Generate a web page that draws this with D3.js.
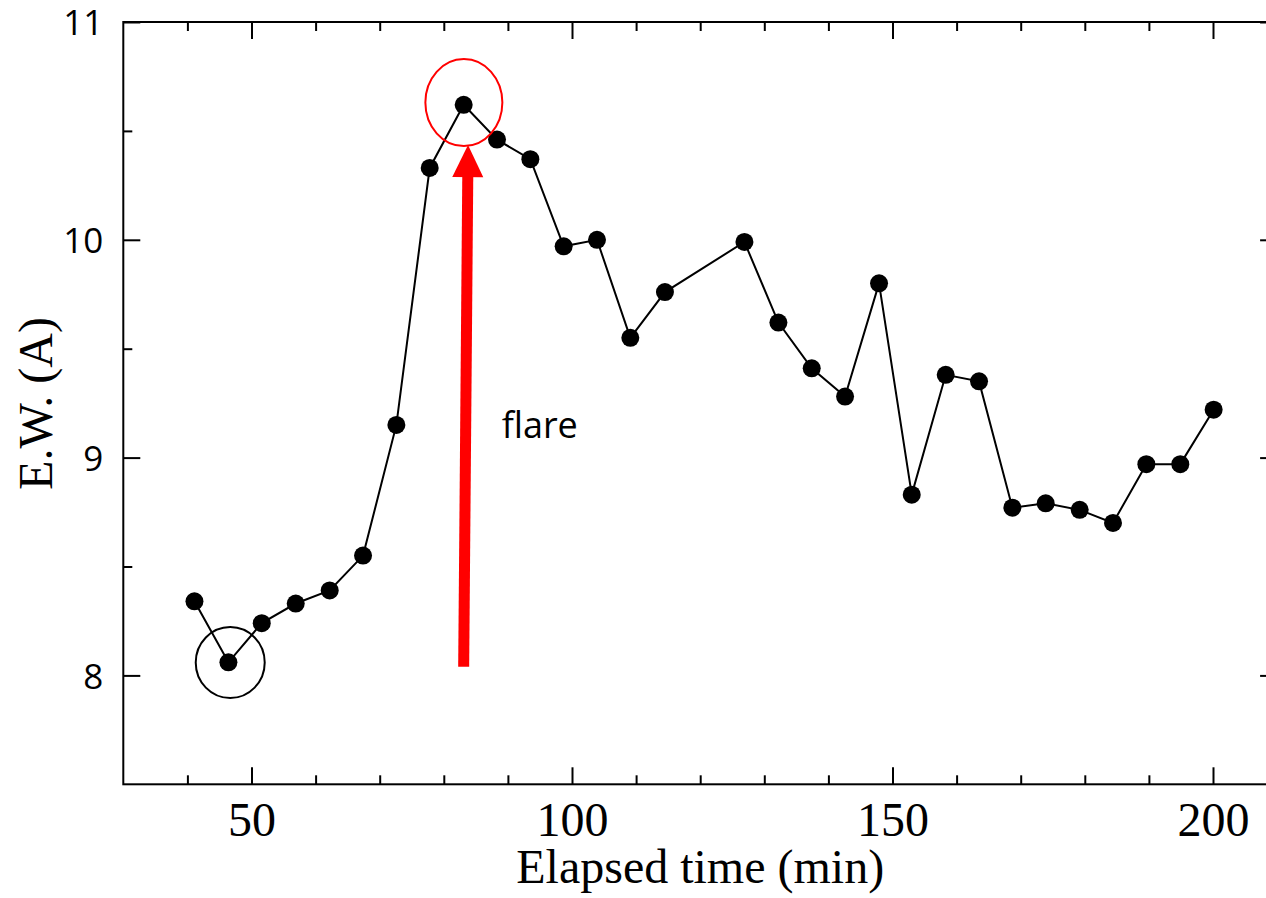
<!DOCTYPE html>
<html>
<head>
<meta charset="utf-8">
<script src="https://cdn.jsdelivr.net/npm/d3@7"></script>
<style>
  html, body { margin: 0; padding: 0; background: #fff; }
  svg { display: block; }
</style>
</head>
<body>
<svg id="chart" width="1266" height="898"></svg>
<script>
// Elapsed time (min) of each spectrum
const times = [41.1, 46.4, 51.6, 56.9, 62.2, 67.4, 72.6, 77.8, 83.1, 88.3,
               93.5, 98.7, 103.9, 109.1, 114.5, 126.9, 132.2, 137.4, 142.6, 147.9,
               153.0, 158.3, 163.5, 168.7, 173.9, 179.2, 184.4, 189.6, 194.9, 200.1];
// Equivalent width (A) measured at each time
const ew = [8.34, 8.06, 8.24, 8.33, 8.39, 8.55, 9.15, 10.33, 10.62, 10.46,
            10.37, 9.97, 10.00, 9.55, 9.76, 9.99, 9.62, 9.41, 9.28, 9.80,
            8.83, 9.38, 9.35, 8.77, 8.79, 8.76, 8.70, 8.97, 8.97, 9.22];

const xMajorTicks = [50, 100, 150, 200];
const xMinorTicks = [40, 60, 70, 80, 90, 110, 120, 130, 140, 160, 170, 180, 190];
const yMajorTicks = [8, 9, 10, 11];
const yMinorTicks = [8.5, 9.5, 10.5];

const svg = d3.select("#chart");

const x = d3.scaleLinear().domain([30, 210]).range([123.3, 1277.1]);
const y = d3.scaleLinear().domain([7.5, 11]).range([784.3, 22]);

const [x0, x1] = x.range();
const [y0, y1] = y.range();

function styleAxis(g) {
  g.select(".domain").remove();
  g.selectAll(".tick line").attr("stroke", "#000").attr("stroke-width", 2);
}

// bottom axis: majors with labels, minors without
svg.append("g").attr("transform", `translate(0,${y0})`)
  .call(d3.axisBottom(x).tickValues(xMajorTicks).tickSize(-17).tickFormat(d3.format("d")))
  .call(styleAxis)
  .call(g => g.selectAll(".tick text")
    .attr("y", 52).attr("dy", 0)
    .attr("font-family", "'Liberation Serif', 'Times New Roman', serif")
    .attr("font-size", 48).attr("fill", "#000"));
svg.append("g").attr("transform", `translate(0,${y0})`)
  .call(d3.axisBottom(x).tickValues(xMinorTicks).tickSize(-9).tickFormat(""))
  .call(styleAxis);

// top axis (ticks only)
svg.append("g").attr("transform", `translate(0,${y1})`)
  .call(d3.axisTop(x).tickValues(xMajorTicks).tickSize(-17).tickFormat(""))
  .call(styleAxis);
svg.append("g").attr("transform", `translate(0,${y1})`)
  .call(d3.axisTop(x).tickValues(xMinorTicks).tickSize(-9).tickFormat(""))
  .call(styleAxis);

// left axis
svg.append("g").attr("transform", `translate(${x0},0)`)
  .call(d3.axisLeft(y).tickValues(yMajorTicks).tickSize(-17).tickPadding(20).tickFormat(d3.format("d")))
  .call(styleAxis)
  .call(g => g.selectAll(".tick text")
    .attr("dy", "0.36em")
    .attr("font-family", "'Open Sans', 'Noto Sans', sans-serif")
    .attr("font-size", 35).attr("fill", "#000"));
svg.append("g").attr("transform", `translate(${x0},0)`)
  .call(d3.axisLeft(y).tickValues(yMinorTicks).tickSize(-9).tickFormat(""))
  .call(styleAxis);

// right axis (ticks only)
svg.append("g").attr("transform", `translate(${x1},0)`)
  .call(d3.axisRight(y).tickValues(yMajorTicks).tickSize(-17).tickFormat(""))
  .call(styleAxis);
svg.append("g").attr("transform", `translate(${x1},0)`)
  .call(d3.axisRight(y).tickValues(yMinorTicks).tickSize(-9).tickFormat(""))
  .call(styleAxis);

// plot frame
svg.append("rect")
  .attr("x", x0).attr("y", y1)
  .attr("width", x1 - x0).attr("height", y0 - y1)
  .attr("fill", "none").attr("stroke", "#000").attr("stroke-width", 2);

// axis titles
svg.append("text")
  .attr("x", (x0 + x1) / 2).attr("y", 883)
  .attr("text-anchor", "middle")
  .attr("font-family", "'Liberation Serif', 'Times New Roman', serif")
  .attr("font-size", 48).attr("fill", "#000")
  .text("Elapsed time (min)");

svg.append("text")
  .attr("transform", "translate(52,403.5) rotate(-90)")
  .attr("text-anchor", "middle")
  .attr("font-family", "'Liberation Serif', 'Times New Roman', serif")
  .attr("font-size", 48).attr("fill", "#000")
  .text("E.W. (A)");

// data series
const pts = times.map((t, i) => [t, ew[i]]);

svg.append("path")
  .datum(pts)
  .attr("fill", "none").attr("stroke", "#000").attr("stroke-width", 2)
  .attr("d", d3.line().x(d => x(d[0])).y(d => y(d[1])));

svg.append("g").selectAll("circle")
  .data(pts).join("circle")
  .attr("cx", d => x(d[0])).attr("cy", d => y(d[1]))
  .attr("r", 9).attr("fill", "#000");

// annotations: pre-flare minimum and flare peak
svg.append("ellipse")
  .attr("cx", x(46.68)).attr("cy", y(8.059))
  .attr("rx", 34.5).attr("ry", 35.5)
  .attr("fill", "none").attr("stroke", "#000").attr("stroke-width", 2);

svg.append("ellipse")
  .attr("cx", x(83.13)).attr("cy", y(10.63))
  .attr("rx", 38.5).attr("ry", 43.5)
  .attr("fill", "none").attr("stroke", "#ff0000").attr("stroke-width", 2);

// flare arrow
const tail = [x(83.1), y(8.04)];
const tip = [x(83.78), y(10.435)];
const headLen = 32, headHalf = 15.5, shaft = 11;
const dx = tip[0] - tail[0], dy = tip[1] - tail[1];
const len = Math.hypot(dx, dy);
const ux = dx / len, uy = dy / len;
const base = [tip[0] - ux * headLen, tip[1] - uy * headLen];

svg.append("line")
  .attr("x1", tail[0]).attr("y1", tail[1])
  .attr("x2", base[0] + ux * 2).attr("y2", base[1] + uy * 2)
  .attr("stroke", "#ff0000").attr("stroke-width", shaft);

svg.append("polygon")
  .attr("points", [
    tip,
    [base[0] - uy * headHalf, base[1] + ux * headHalf],
    [base[0] + uy * headHalf, base[1] - ux * headHalf]
  ].map(p => p.join(",")).join(" "))
  .attr("fill", "#ff0000");

svg.append("text")
  .attr("x", 501.7).attr("y", 438)
  .attr("font-family", "'Open Sans', 'Noto Sans', sans-serif")
  .attr("font-size", 36).attr("fill", "#000")
  .text("flare");
</script>
</body>
</html>
